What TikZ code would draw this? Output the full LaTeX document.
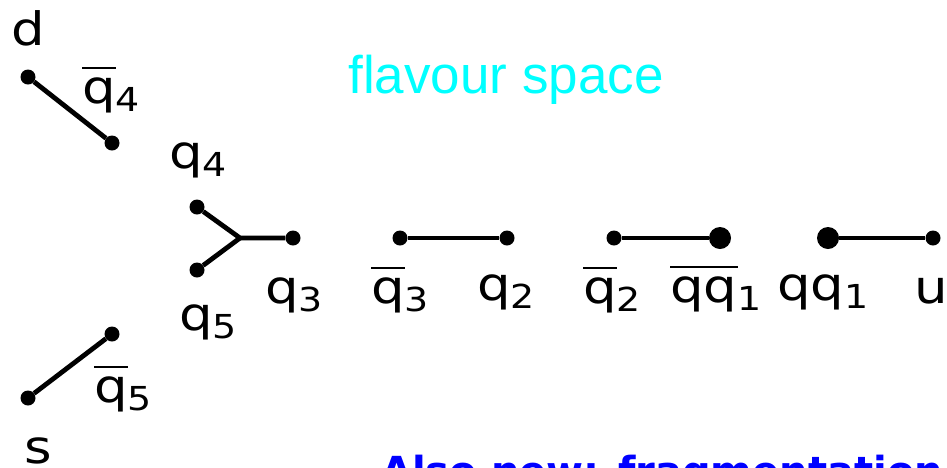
\documentclass[tikz,border=0pt]{standalone}
\usepackage{fontspec}
\setmainfont{DejaVu Sans}
\newfontfamily\lblfont[FakeStretch=1.15]{DejaVu Sans}
\newfontfamily\titlefont{Liberation Sans}
\usepackage{xcolor}
\usepackage{tikz}

\definecolor{flavcyan}{RGB}{0,255,255}
\definecolor{noteblue}{RGB}{0,0,255}

% bar over a label, and a lowered index
\newcommand{\ovl}[1]{\leavevmode\vbox{\hrule height 2pt\kern 8pt\hbox{#1}}}
\newcommand{\idx}[1]{\raisebox{-8pt}{\fontsize{33}{33}\selectfont #1}}

\begin{document}
\begin{tikzpicture}[
    x=1pt, y=-1pt,
    font=\lblfont\fontsize{46}{55}\selectfont,
    dot/.style={circle, fill=black, inner sep=0pt, minimum size=15pt},
    bigdot/.style={circle, fill=black, inner sep=0pt, minimum size=22pt},
    link/.style={line width=4.8pt},
    lbl/.style={anchor=base, inner sep=0pt}
]
\useasboundingbox (0,0) rectangle (947,467);
\clip (0,0) rectangle (947,467);

% Title
\node[lbl, text=flavcyan, font=\titlefont\fontsize{53}{60}\selectfont] (title) at (506,93) {flavour space};

% Strings: end points
\node[dot] (d) at (28,77) {};
\node[dot] (qb4) at (112,143) {};
\node[dot] (q4) at (197,207) {};
\node[dot] (q5) at (197,270) {};
\coordinate (junction) at (240,238);
\node[dot] (q3) at (293,238) {};
\node[dot] (qb3) at (400,238) {};
\node[dot] (q2) at (507,238) {};
\node[dot] (qb2) at (614,238) {};
\node[bigdot] (qqb1) at (720,238) {};
\node[bigdot] (qq1) at (828,238) {};
\node[dot] (u) at (933,238) {};
\node[dot] (qb5) at (112,334) {};
\node[dot] (s) at (28,398) {};

% Strings: pieces
\draw[link] (d) -- (qb4);
\draw[link] (q4) -- (junction) -- (q3);
\draw[link] (q5) -- (junction);
\draw[link] (qb3) -- (q2);
\draw[link] (qb2) -- (qqb1);
\draw[link] (qq1) -- (u);
\draw[link] (s) -- (qb5);

% Labels
\node[lbl] (Ld) at (28,45) {d};
\node[lbl] (Lqb4) at (111,103) {\ovl{q}\idx{4}};
\node[lbl] (Lq4) at (198,168) {q\idx{4}};
\node[lbl] (Lq5) at (208,330) {q\idx{5}};
\node[lbl] (Lq3) at (294,303) {q\idx{3}};
\node[lbl] (Lqb3) at (400,303) {\ovl{q}\idx{3}};
\node[lbl] (Lq2) at (506,300) {q\idx{2}};
\node[lbl] (Lqb2) at (612,303) {\ovl{q}\idx{2}};
\node[lbl] (Lqqb1) at (716,302) {\ovl{qq}\idx{1}};
\node[lbl] (Lqq1) at (823,300) {qq\idx{1}};
\node[lbl] (Lu) at (931,303) {u};
\node[lbl] (Lqb5) at (123,402) {\ovl{q}\idx{5}};
\node[lbl] (Ls) at (38,463) {s};

% Caption, cut by the frame
\node[lbl, anchor=base west, text=noteblue, font=\bfseries\fontsize{40}{48}\selectfont] (note) at (381,485) {Also new: fragmentation};

\end{tikzpicture}
\end{document}
